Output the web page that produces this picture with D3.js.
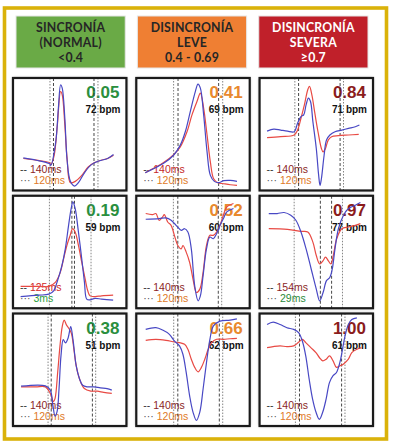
<!DOCTYPE html>
<html>
<head>
<meta charset="utf-8">
<script src="https://cdn.jsdelivr.net/npm/d3@7"></script>
<style>
  body { margin: 0; background: #fff; }
  svg { display: block; }
</style>
</head>
<body>
<div id="chart"></div>
<script>
// header categories
const headerLines = [
  ["SINCRONÍA", "(NORMAL)", "<0.4"],
  ["DISINCRONÍA", "LEVE", "0.4 - 0.69"],
  ["DISINCRONÍA", "SEVERA", "≥0.7"]
];
const headerColors = ["#6aaa46", "#ef7f33", "#c0202a"];
const headerText = ["#262626", "#262626", "#ffffff"];
const scoreColors = ["#2a8f3e", "#e8892e", "#8b1c1c"];

// panel values, row by row
const scores = ["0.05", "0.41", "0.84", "0.19", "0.52", "0.97", "0.38", "0.66", "1.00"];
const bpm = [72, 69, 71, 59, 60, 77, 51, 62, 61];
const qrsDashed = ["140ms", "140ms", "140ms", "125ms", "140ms", "154ms", "140ms", "140ms", "140ms"];
const qrsDashedColor = ["#8b1f1f", "#c42828", "#8b1f1f", "#d02828", "#8b1f1f", "#8b1f1f", "#8b1f1f", "#8b1f1f", "#8b1f1f"];
const qrsDotted = ["120ms", "120ms", "120ms", "3ms", "120ms", "29ms", "120ms", "120ms", "120ms"];
const qrsDottedColor = ["#e07a28", "#e07a28", "#e07a28", "#2aa040", "#e07a28", "#2a8a3a", "#e07a28", "#e07a28", "#e07a28"];

// vertical marker positions (% of the panel width)
const markers = [
  [32.6, 35.7, 71.4, 74.9],
  [32.9, 36.8, 72.6, 76.2],
  [31.1, 34.4, 71.0, 74.0],
  [32.1, 51.9, 54.2, 68.8],
  [32.7, 36.6, 72.3, 75.3],
  [30.5, 53.6, 63.5, 73.1],
  [30.9, 33.7, 70.0, 72.9],
  [33.0, 36.6, 73.2, 76.2],
  [31.6, 35.2, 72.3, 75.3]
];

// waveforms, [x %, y %]
const redWaves = [
  [[9.1,28.4],[20.6,26.9],[32,24.8],[33.4,23],[36.3,31.3],[39.1,58.2],[42,88],[43.4,85],[45.7,58.2],[47.7,28.4],[50.6,6.9],[54.9,8.1],[60.6,13.4],[66.3,20.9],[72,24.8],[77.7,26.9],[83.4,28.4],[88.6,31.3]],
  [[7.9,15.8],[24.1,24.8],[32.9,31.9],[38.8,38.8],[44.7,52.2],[49.1,67.2],[53.5,79.1],[56.5,86.6],[59.4,73.1],[62.4,49.3],[65.3,25.4],[68.2,10.4],[71.8,6.9],[77.1,6],[82.9,5.1],[88.8,4.5]],
  [[6.6,46.9],[18.6,47.8],[30.5,49.3],[33.5,53.7],[36.5,64.2],[39.5,76.1],[42.5,89.6],[44,92.5],[46.1,85.1],[48.5,70.1],[51.5,52.2],[54.5,37.3],[56,34.3],[58.1,37.3],[60.5,44.8],[63.5,47.8],[69.5,48.7],[78.4,49.3],[87.4,49.9]],
  [[6.7,19.4],[22.7,19.4],[31.5,19.4],[37.3,23],[41.7,31.9],[44.6,43.9],[47.5,55.8],[50.4,64.8],[52.5,70.7],[54.8,67.8],[57.7,55.8],[60.6,40.9],[63.6,26],[65.9,15.5],[67.9,11],[72.3,10.4],[78.1,11],[88.3,11.6]],
  [[8.3,84.2],[14.3,83.3],[17.3,84.2],[20.2,78.2],[23.2,81.2],[24.7,83.3],[27.7,76.7],[30.7,73.7],[33.6,64.8],[36.6,55.8],[39.6,52.8],[41.1,55.8],[44,49.9],[47,40.9],[50,26],[53,14],[56,17],[58.9,31.9],[61.9,55.8],[64.9,64.8],[67.9,64.8],[70.8,67.8],[73.8,73.7],[76.8,82.7],[79.8,90.1],[85.7,93.1]],
  [[8.1,70.7],[24.6,70.1],[36.5,68.4],[42.5,67.8],[47,58.8],[50,46.9],[53,39.4],[56,42.4],[58.1,45.4],[60.5,42.4],[62.9,39.4],[65,46.9],[68,61.8],[72.5,70.7],[78.4,72.2],[84.4,73.7],[88.9,75.2]],
  [[7.1,34.8],[20,34.8],[28.6,34.8],[32.9,29],[35.7,21.7],[37.1,24.6],[39.4,47.8],[41.4,71],[43.4,88.4],[45.1,94.2],[47.1,89.9],[49.1,87],[51.4,82.6],[53.7,68.1],[55.7,53.6],[58.6,42],[62.9,33.3],[68.6,31],[74.3,31],[80,29.9],[87.1,29]],
  [[8.3,76.2],[17.3,77.1],[26.2,76.2],[33.6,74.7],[38.1,74.1],[42.6,72.6],[45.5,68.2],[48.5,59.4],[51.5,52.1],[54.5,48.2],[57.4,52.1],[60.4,59.4],[63.4,68.2],[66.4,74.1],[70.8,77.1],[76.8,77.1],[82.7,77.6],[88.7,77.9]],
  [[6.6,69.7],[12,70.6],[18.1,71.2],[24.1,70.6],[30.1,71.2],[34.6,74.7],[37.7,77.1],[40.7,74.1],[45.2,69.7],[49.7,65.3],[52.7,60.9],[55.7,57.9],[58.7,59.4],[61.7,62.4],[64.8,57.9],[67.8,52.1],[70.8,53.5],[73.8,55],[78.3,59.4],[81.3,65.3],[85.8,68.2],[89.8,69.7]]
];
const blueWaves = [
  [[9.1,29],[20.6,26.9],[32,23.9],[33.4,22.4],[37.7,43.3],[40,73.1],[42,94],[43.4,91],[45.7,64.2],[47.7,26.9],[50.6,8.1],[54.3,3.9],[57.7,6.9],[63.4,16.4],[69.1,23],[74.9,26],[83.4,28.4],[88.6,31.9]],
  [[7.9,15.8],[24.1,24.2],[32.9,31.3],[38.8,40.3],[43.2,52.2],[47.6,70.1],[52.1,88.1],[54.4,94.6],[56.5,91],[59.4,67.2],[62.4,34.3],[65.3,13.4],[68.8,8.1],[72.6,6.9],[77.1,8.7],[82.9,9],[88.8,8.1]],
  [[6.6,52.8],[12.6,54.6],[18.6,53.7],[24.6,52.8],[30.5,52.2],[33.5,59.7],[36.5,65.7],[38.9,67.2],[41,76.1],[43.1,82.1],[44.9,79.1],[47,61.2],[50,37.3],[52.1,13.4],[53.3,4.5],[54.5,10.4],[56.9,31.3],[59,44.8],[62,49.3],[66.5,52.2],[72.5,53.7],[78.4,55.2],[84.4,56.7],[88,58.2]],
  [[6.7,10.4],[22.7,11.6],[31.5,12.5],[35.9,15.5],[38.8,23],[43.1,37.9],[46.1,52.8],[49,73.7],[51.3,88.7],[52.8,94.6],[54.8,88.7],[57.7,67.8],[60.6,43.9],[63,23],[65,8.1],[67.9,7.5],[72.3,8.7],[78.1,8.1],[88.3,7.2]],
  [[8.3,79.1],[20.2,79.7],[26.2,80.3],[30.7,78.2],[35.1,73.7],[39.6,69.3],[42.6,70.7],[45.5,67.8],[48.5,52.8],[51.5,20],[54.5,6.6],[56.5,11],[58.9,29],[61.9,52.8],[64.9,63.3],[67.9,61.8],[70.8,66.3],[73.8,73.7],[76.8,79.7],[79.8,85.7],[85.7,88.7]],
  [[8.1,84.2],[15.6,84.2],[21.6,85.1],[27.5,82.7],[32,78.2],[36.5,67.8],[41,52.8],[45.5,34.9],[50,17],[53,6.6],[56,14],[59,24.5],[62,27.5],[64.1,34.9],[66.5,52.8],[69.5,70.7],[74,82.7],[78.4,88.7],[84.4,91.6],[88.9,94]],
  [[7.1,35.4],[28.6,35.7],[32.9,31.9],[35.1,18.8],[37.1,8.7],[38.9,13],[40.6,33.3],[42.3,62.3],[44.3,76.8],[46.3,73.9],[48.6,78.3],[50.9,88.4],[52.9,76.8],[55.7,53.6],[58.6,42],[61.4,36.2],[65.7,34.8],[71.4,34.8],[77.1,33.9],[82.9,33.3],[87.1,31.9]],
  [[8.3,85.9],[17.3,87.4],[23.2,85.3],[29.2,81.5],[33.6,75.6],[38.1,71.2],[41.1,63.8],[44,47.6],[47,27.1],[50,12.4],[53,5],[56,12.4],[58.9,32.9],[61.9,56.5],[64.9,77.1],[67.9,88.8],[73.8,93.2],[82.7,94.1],[88.7,95.3]],
  [[6.6,90.3],[12,92.4],[18.1,90.3],[24.1,87.4],[30.1,85.9],[34.6,82.9],[37.7,75.6],[40.7,62.4],[43.7,41.8],[46.7,24.1],[49.7,12.4],[52.7,5.9],[55.7,12.4],[58.7,24.1],[61.7,38.8],[64.8,44.7],[67.8,47.6],[70.8,56.5],[72.9,66.8],[75.3,80],[78.3,90.3],[81.3,94.7],[85.8,96.2]]
];

const width = 393, height = 445;
const svg = d3.select("#chart").append("svg")
  .attr("width", width)
  .attr("height", height);

const defs = svg.append("defs");
const shadow = defs.append("filter").attr("id", "shadow")
  .attr("x", "-10%").attr("y", "-10%").attr("width", "120%").attr("height", "120%");
shadow.append("feDropShadow")
  .attr("dx", 0).attr("dy", 0).attr("stdDeviation", 1.6)
  .attr("flood-color", "#000").attr("flood-opacity", 0.55);

// gold frame
svg.append("rect")
  .attr("x", 4.5).attr("y", 8).attr("width", 382).attr("height", 431)
  .attr("fill", "none").attr("stroke", "#dab20a").attr("stroke-width", 3.6);

// header boxes
const headX = d3.scaleBand().domain([0, 1, 2]).range([16, 368]).paddingInner(0.1);
const head = svg.selectAll("g.head").data(headerLines).join("g")
  .attr("class", "head")
  .attr("transform", (d, i) => `translate(${headX(i)},16)`);
head.append("rect")
  .attr("width", headX.bandwidth()).attr("height", 52)
  .attr("fill", (d, i) => headerColors[i])
  .attr("stroke", "#e6e6e6").attr("stroke-width", 1);
head.each(function(lines, i) {
  d3.select(this).selectAll("text").data(lines).join("text")
    .attr("x", headX.bandwidth() / 2)
    .attr("y", (d, j) => 15.5 + j * 15)
    .attr("text-anchor", "middle")
    .attr("font-family", "Lato, sans-serif")
    .attr("font-weight", "bold")
    .attr("font-size", "12.3px")
    .attr("letter-spacing", "0.2px")
    .attr("fill", headerText[i])
    .text(d => d);
});

// panel grid
const colX = d3.scaleBand().domain([0, 1, 2]).range([13, 373]).paddingInner(0.08);
const rowY = d3.scaleBand().domain([0, 1, 2]).range([78, 426]).paddingInner(0.045);
const pw = colX.bandwidth(), ph = rowY.bandwidth();

const x = d3.scaleLinear().domain([0, 100]).range([0, pw]);
const y = d3.scaleLinear().domain([0, 100]).range([ph, 0]);
const line = d3.line().x(d => x(d[0])).y(d => y(d[1])).curve(d3.curveCatmullRom.alpha(0.5));

const panels = svg.selectAll("g.panel").data(d3.range(9)).join("g")
  .attr("class", "panel")
  .attr("transform", i => `translate(${colX(i % 3)},${rowY(Math.floor(i / 3))})`);

panels.append("rect")
  .attr("width", pw).attr("height", ph)
  .attr("fill", "#fff")
  .attr("filter", "url(#shadow)");

// score and bpm
panels.append("text")
  .attr("x", pw - 7).attr("y", 20)
  .attr("text-anchor", "end")
  .attr("font-family", "'Liberation Sans', Arial, sans-serif")
  .attr("font-weight", "bold").attr("font-size", "17px")
  .attr("fill", i => scoreColors[i % 3])
  .text(i => scores[i]);
panels.append("text")
  .attr("x", pw - 6).attr("y", 35)
  .attr("text-anchor", "end")
  .attr("font-family", "'Liberation Sans', Arial, sans-serif")
  .attr("font-weight", "bold").attr("font-size", "10px")
  .attr("fill", "#111")
  .text(i => bpm[i] + " bpm");

// legend
const leg1 = panels.append("text")
  .attr("x", 7).attr("y", ph - 17)
  .attr("font-family", "'Liberation Sans', Arial, sans-serif")
  .attr("font-size", "10.5px");
leg1.append("tspan").attr("fill", "#333").text("-- ");
leg1.append("tspan").attr("fill", i => qrsDashedColor[i]).text(i => qrsDashed[i]);
const leg2 = panels.append("text")
  .attr("x", 7).attr("y", ph - 6)
  .attr("font-family", "'Liberation Sans', Arial, sans-serif")
  .attr("font-size", "10.5px");
leg2.append("tspan").attr("fill", "#555").text("··· ");
leg2.append("tspan").attr("fill", i => qrsDottedColor[i]).text(i => qrsDotted[i]);

// vertical markers
panels.each(function(i) {
  d3.select(this).selectAll("line.mark").data(markers[i]).join("line")
    .attr("class", "mark")
    .attr("x1", d => x(d)).attr("x2", d => x(d))
    .attr("y1", 0).attr("y2", ph)
    .attr("stroke", (d, j) => (j === 0 || j === 3) ? "#777" : "#333")
    .attr("stroke-width", 0.9)
    .attr("stroke-dasharray", (d, j) => (j === 0 || j === 3) ? "1.5,1.5" : "3,2");
});

// waveforms
panels.append("path")
  .attr("d", i => line(redWaves[i]))
  .attr("fill", "none").attr("stroke", "#e84a44").attr("stroke-width", 1.2);
panels.append("path")
  .attr("d", i => line(blueWaves[i]))
  .attr("fill", "none").attr("stroke", "#4848c4").attr("stroke-width", 1.2);

// panel frame
panels.append("rect")
  .attr("width", pw).attr("height", ph)
  .attr("fill", "none")
  .attr("stroke", "#1a1a1a").attr("stroke-width", 2.2);
</script>
</body>
</html>
